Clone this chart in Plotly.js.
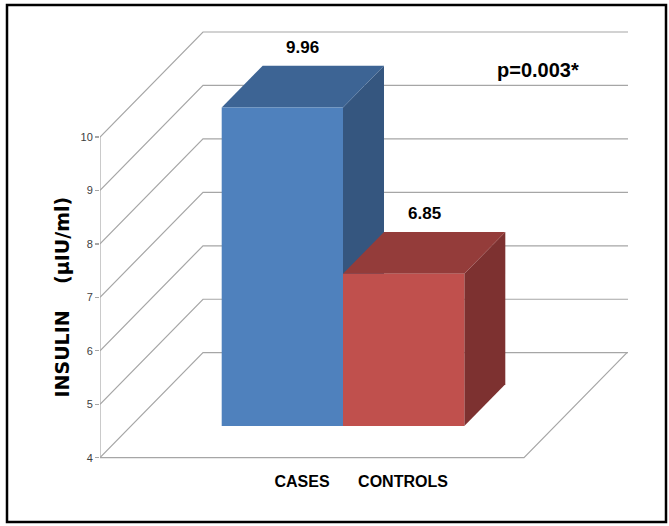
<!DOCTYPE html>
<html>
<head>
<meta charset="utf-8">
<script src="https://cdn.plot.ly/plotly-3.0.1.min.js"></script>
<style>
  html, body { margin: 0; padding: 0; background: #ffffff; }
  #chart { width: 669px; height: 526px; }
</style>
</head>
<body>
<div id="chart"></div>
<script>
// ---- data ----
const categories = ['CASES', 'CONTROLS'];
const insulin = [9.96, 6.85];
const valueLabels = ['9.96', '6.85'];
const yTicks = [4, 5, 6, 7, 8, 9, 10];
const yTickText = ['4', '5', '6', '7', '8', '9', '10'];
const pValueText = 'p=0.003*';
const yTitleText = 'INSULIN\u00a0\u00a0\u00a0\u00a0(\u00b5IU/ml)';

// ---- colours ----
const frontColors = ['#4F81BD', '#C0504D'];
const topColors = ['#3D6494', '#943C3A'];
const sideColors = ['#35567F', '#7D3130'];
const gridColor = '#A6A6A6';

// ---- layout geometry (pixels) ----
const W = 669, H = 526;
const M = { l: 100, r: 29, t: 20, b: 56 };
const plotW = W - M.l - M.r;      // x data units are pixels
const plotH = H - M.t - M.b;
const PX = 53.45;                  // pixels per insulin unit on the front plane
const Y_MIN = 4;                   // floor value
const FLOOR_PY = 457.7;            // pixel row of the floor's front edge
const DEPTH_X = 103, DEPTH_Y = 105; // 3-D depth offset of the back wall
const FLOOR_W = 424;               // width of the front floor edge
const WALL_W = 528;                // right end of the back wall (from left axis)
const barLeft = [90.7, 212.0];     // un-projected left edge of each column
const barW = 121.3;
const barZ0 = 31, barZD = 41;      // column front depth and column depth
const catTickPos = [202, 303];

const yLo = Y_MIN - (M.t + plotH - FLOOR_PY) / PX;
const yHi = yLo + plotH / PX;
const KY = (DEPTH_Y / DEPTH_X) / PX;   // value shift per unit of depth

// project a point (x on front plane, value, depth) into data coordinates
function proj(x, v, z) { return [x + z, v + z * KY]; }
function pyToVal(py) { return Y_MIN + (FLOOR_PY - py) / PX; }
function pxToPaperX(px) { return (px - M.l) / plotW; }
function pyToPaperY(py) { return (M.t + plotH - py) / plotH; }
function polyTrace(pts, color) {
  return {
    type: 'scatter', mode: 'lines', fill: 'toself', fillcolor: color,
    x: pts.map(p => p[0]).concat([pts[0][0]]),
    y: pts.map(p => p[1]).concat([pts[0][1]]),
    line: { width: 0, color: color }, hoverinfo: 'skip', showlegend: false
  };
}
function lineTrace(pts) {
  return {
    type: 'scatter', mode: 'lines',
    x: pts.map(p => p[0]), y: pts.map(p => p[1]),
    line: { width: 1.2, color: gridColor }, hoverinfo: 'skip', showlegend: false
  };
}

const traces = [];

// side wall diagonals + back wall gridlines
yTicks.forEach(v => {
  traces.push(lineTrace([proj(0, v, 0), proj(0, v, DEPTH_X), proj(WALL_W - DEPTH_X, v, DEPTH_X)]));
});
// front-left axis line and floor outline
traces.push(lineTrace([proj(0, yTicks[0], 0), proj(0, yTicks[yTicks.length - 1], 0)]));
traces.push(lineTrace([proj(0, Y_MIN, 0), proj(FLOOR_W, Y_MIN, 0), proj(FLOOR_W, Y_MIN, DEPTH_X)]));

// columns: side, top, front faces
const z1 = barZ0 + barZD;
insulin.forEach((v, i) => {
  const L = barLeft[i], R = barLeft[i] + barW;
  traces.push(polyTrace([proj(R, Y_MIN, barZ0), proj(R, v, barZ0), proj(R, v, z1), proj(R, Y_MIN, z1)], sideColors[i]));
  traces.push(polyTrace([proj(L, v, barZ0), proj(L, v, z1), proj(R, v, z1), proj(R, v, barZ0)], topColors[i]));
  traces.push(polyTrace([proj(L, Y_MIN, barZ0), proj(L, v, barZ0), proj(R, v, barZ0), proj(R, Y_MIN, barZ0)], frontColors[i]));
});

const boldFont = 'Liberation Sans, Arial, sans-serif';
const annotations = insulin.map((v, i) => {
  const c = proj(barLeft[i] + barW / 2, v, barZ0 + barZD / 2);
  const back = proj(0, v, z1);
  return {
    x: c[0], y: back[1], xref: 'x', yref: 'y',
    text: '<b>' + valueLabels[i] + '</b>', showarrow: false,
    xanchor: 'center', yanchor: 'bottom', yshift: 7,
    font: { family: boldFont, size: 17, color: '#000000' }
  };
});
annotations.push({
  x: 537.5 - M.l, y: pyToVal(70), xref: 'x', yref: 'y',
  text: '<b>' + pValueText + '</b>', showarrow: false,
  xanchor: 'center', yanchor: 'middle',
  font: { family: boldFont, size: 20, color: '#000000' }
});
annotations.push({
  x: pxToPaperX(61.5), y: pyToPaperY(297), xref: 'paper', yref: 'paper',
  text: '<b>' + yTitleText + '</b>', showarrow: false, textangle: -90,
  xanchor: 'center', yanchor: 'middle',
  font: { family: 'DejaVu Sans, Verdana, sans-serif', size: 19, color: '#000000' }
});

const layout = {
  width: W, height: H,
  margin: M,
  paper_bgcolor: '#ffffff', plot_bgcolor: '#ffffff',
  showlegend: false,
  xaxis: {
    range: [0, plotW], showgrid: false, zeroline: false, showline: false,
    tickvals: catTickPos, ticktext: categories.map(c => '<b>' + c + '</b>'), ticks: '',
    tickfont: { family: boldFont, size: 16, color: '#000000' },
    fixedrange: true
  },
  yaxis: {
    range: [yLo, yHi], showgrid: false, zeroline: false, showline: false,
    tickvals: yTicks, ticktext: yTickText, ticks: 'outside', ticklen: 4,
    tickcolor: gridColor, tickwidth: 1.2,
    tickfont: { family: 'Liberation Sans, Arial, sans-serif', size: 11, color: '#404040' },
    fixedrange: true
  },
  annotations: annotations,
  shapes: [{
    type: 'rect', xref: 'paper', yref: 'paper',
    x0: pxToPaperX(7), x1: pxToPaperX(666),
    y0: pyToPaperY(522), y1: pyToPaperY(5),
    line: { color: '#000000', width: 2.5 }, fillcolor: 'rgba(0,0,0,0)'
  }]
};

Plotly.newPlot('chart', traces, layout, { staticPlot: true, displayModeBar: false });
</script>
</body>
</html>
